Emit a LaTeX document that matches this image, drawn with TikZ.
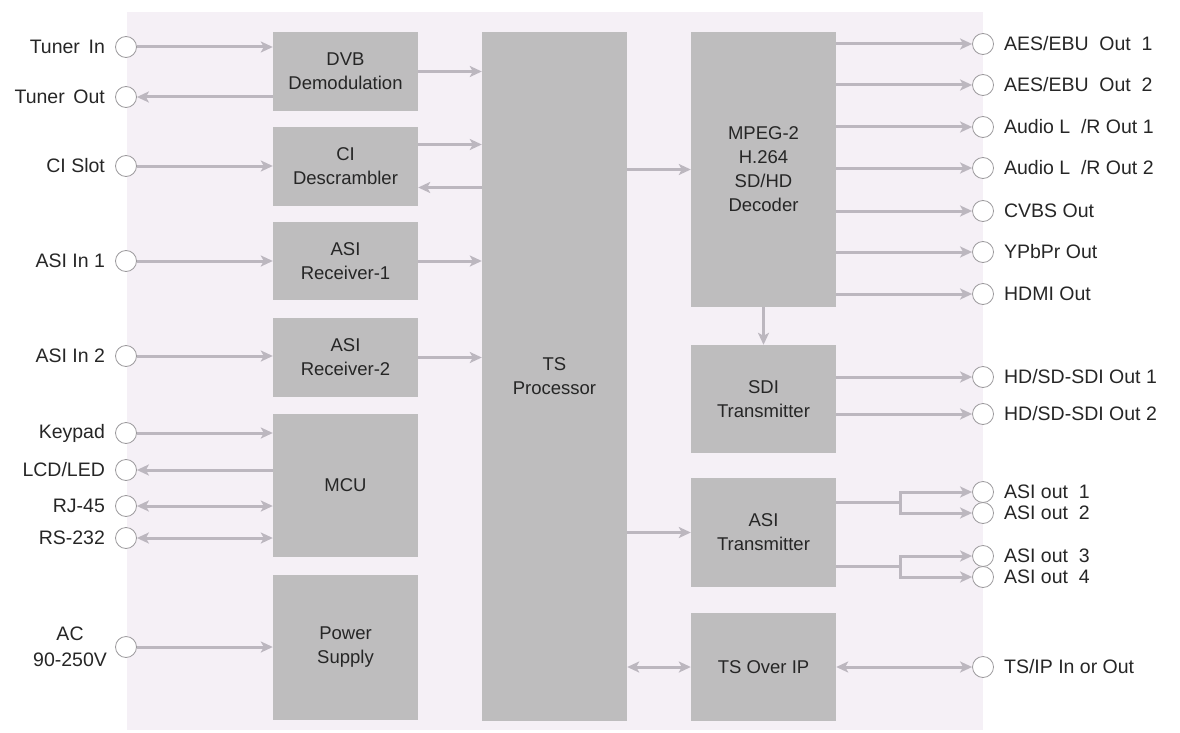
\documentclass[tikz,border=0pt]{standalone}
\usepackage{fontspec}
\setmainfont{Liberation Sans}
\usetikzlibrary{arrows.meta}
\definecolor{panelbg}{HTML}{F5F0F6}
\definecolor{blockgray}{HTML}{BEBDBE}
\definecolor{wire}{HTML}{BCB7BF}
\definecolor{ring}{HTML}{9C9A9D}
\definecolor{ink}{HTML}{262626}

\begin{document}
\begin{tikzpicture}[
  x=1pt, y=-1pt,
  wtip/.tip={Stealth[length=12pt, width=11pt, inset=3pt]},
  block/.style={fill=blockgray, minimum width=145pt, inner sep=0pt,
                align=center, text=ink, font=\fontsize{18.5}{24}\selectfont},
  port/.style={circle, draw=ring, fill=white, line width=0.8pt,
               minimum size=21pt, inner sep=0pt},
  plabel/.style={text=ink, inner sep=0pt, align=center,
                 font=\fontsize{19.5}{26}\selectfont},
  wireline/.style={draw=wire, line width=3pt},
  link/.style={wireline, -wtip},
  duplex/.style={wireline, wtip-wtip},
]
\useasboundingbox (0,0) rectangle (1180,733);
\fill[panelbg] (127,12) rectangle (983,730);

% blocks
\node[block, minimum height=79pt] (dvb) at (345.5,71.5) {DVB\\Demodulation};
\node[block, minimum height=79pt] (ci) at (345.5,166.5) {CI\\Descrambler};
\node[block, minimum height=78pt] (rx1) at (345.5,261) {ASI\\Receiver-1};
\node[block, minimum height=79pt] (rx2) at (345.5,357.5) {ASI\\Receiver-2};
\node[block, minimum height=143pt] (mcu) at (345.5,485.5) {MCU};
\node[block, minimum height=145pt] (psu) at (345.5,647.5) {Power\\Supply};
\node[block, minimum height=689pt] (ts) at (554.5,376.5) {TS\\Processor};
\node[block, minimum height=275pt] (dec) at (763.5,169.5) {MPEG-2\\H.264\\SD/HD\\Decoder};
\node[block, minimum height=108pt] (sdi) at (763.5,399) {SDI\\Transmitter};
\node[block, minimum height=109pt] (asitx) at (763.5,532.5) {ASI\\Transmitter};
\node[block, minimum height=108pt] (tsip) at (763.5,667) {TS Over IP};

% input ports
\node[port, label={[plabel, label distance=10pt]left:Tuner\ \,In}] (tin) at (126,47) {};
\node[port, label={[plabel, label distance=10pt]left:Tuner\ \,Out}] (tout) at (126,97) {};
\node[port, label={[plabel, label distance=10pt]left:CI Slot}] (cislot) at (126,166) {};
\node[port, label={[plabel, label distance=10pt]left:ASI In\ 1}] (asiin1) at (126,261) {};
\node[port, label={[plabel, label distance=10pt]left:ASI In\ 2}] (asiin2) at (126,356) {};
\node[port, label={[plabel, label distance=10pt]left:Keypad}] (keypad) at (126,433) {};
\node[port, label={[plabel, label distance=10pt]left:LCD/LED}] (lcd) at (126,470) {};
\node[port, label={[plabel, label distance=10pt]left:RJ-45}] (rj45) at (126,506) {};
\node[port, label={[plabel, label distance=10pt]left:RS-232}] (rs232) at (126,538) {};
\node[port, label={[plabel, label distance=8pt]left:AC\\90-250V}] (ac) at (126,647) {};

% output ports
\node[port, label={[plabel, label distance=10pt]right:AES/EBU\ \ Out\ \ 1}] (aes1) at (983,44) {};
\node[port, label={[plabel, label distance=10pt]right:AES/EBU\ \ Out\ \ 2}] (aes2) at (983,85) {};
\node[port, label={[plabel, label distance=10pt]right:Audio L\ \ /R Out\ 1}] (alr1) at (983,127) {};
\node[port, label={[plabel, label distance=10pt]right:Audio L\ \ /R Out\ 2}] (alr2) at (983,168) {};
\node[port, label={[plabel, label distance=10pt]right:CVBS Out}] (cvbs) at (983,211) {};
\node[port, label={[plabel, label distance=10pt]right:YPbPr Out}] (ypbpr) at (983,252) {};
\node[port, label={[plabel, label distance=10pt]right:HDMI Out}] (hdmi) at (983,294) {};
\node[port, label={[plabel, label distance=10pt]right:HD/SD-SDI Out\ 1}] (sdi1) at (983,377) {};
\node[port, label={[plabel, label distance=10pt]right:HD/SD-SDI Out\ 2}] (sdi2) at (983,414) {};
\node[port, label={[plabel, label distance=10pt]right:ASI out\ \ 1}] (aout1) at (983,492) {};
\node[port, label={[plabel, label distance=10pt]right:ASI out\ \ 2}] (aout2) at (983,513) {};
\node[port, label={[plabel, label distance=10pt]right:ASI out\ \ 3}] (aout3) at (983,556) {};
\node[port, label={[plabel, label distance=10pt]right:ASI out\ \ 4}] (aout4) at (983,577) {};
\node[port, label={[plabel, label distance=10pt]right:TS/IP In or Out}] (ipport) at (983,667) {};

\coordinate (splitA) at (900,502);
\coordinate (splitB) at (900,566);

% left side
\draw[link] (tin) -- (tin -| dvb.west);
\draw[link] (tout -| dvb.west) -- (tout);
\draw[link] (cislot) -- (cislot -| ci.west);
\draw[link] (asiin1) -- (asiin1 -| rx1.west);
\draw[link] (asiin2) -- (asiin2 -| rx2.west);
\draw[link] (keypad) -- (keypad -| mcu.west);
\draw[link] (lcd -| mcu.west) -- (lcd);
\draw[duplex] (rj45) -- (rj45 -| mcu.west);
\draw[duplex] (rs232) -- (rs232 -| mcu.west);
\draw[link] (ac) -- (ac -| psu.west);

% into and out of the TS processor
\draw[link] (dvb.east) -- (dvb.east -| ts.west);
\draw[link] ([yshift=22pt]ci.east) -- ([yshift=22pt]ci.east -| ts.west);
\draw[link] ([yshift=-21pt]ci.east -| ts.west) -- ([yshift=-21pt]ci.east);
\draw[link] (rx1.east) -- (rx1.east -| ts.west);
\draw[link] (rx2.east) -- (rx2.east -| ts.west);
\draw[link] (ts.east |- dec) -- (dec.west);
\draw[link] (ts.east |- asitx) -- (asitx.west);
\draw[duplex] (ts.east |- tsip) -- (tsip.west);
\draw[link] (dec) -- (sdi);

% right side
\draw[link] (aes1 -| dec.east) -- (aes1);
\draw[link] (aes2 -| dec.east) -- (aes2);
\draw[link] (alr1 -| dec.east) -- (alr1);
\draw[link] (alr2 -| dec.east) -- (alr2);
\draw[link] (cvbs -| dec.east) -- (cvbs);
\draw[link] (ypbpr -| dec.east) -- (ypbpr);
\draw[link] (hdmi -| dec.east) -- (hdmi);
\draw[link] (sdi1 -| sdi.east) -- (sdi1);
\draw[link] (sdi2 -| sdi.east) -- (sdi2);
\draw[wireline] (splitA -| asitx.east) -- (splitA);
\draw[link] (splitA) |- (aout1);
\draw[link] (splitA) |- (aout2);
\draw[wireline] (splitB -| asitx.east) -- (splitB);
\draw[link] (splitB) |- (aout3);
\draw[link] (splitB) |- (aout4);
\draw[duplex] (tsip.east) -- (ipport);
\end{tikzpicture}
\end{document}
